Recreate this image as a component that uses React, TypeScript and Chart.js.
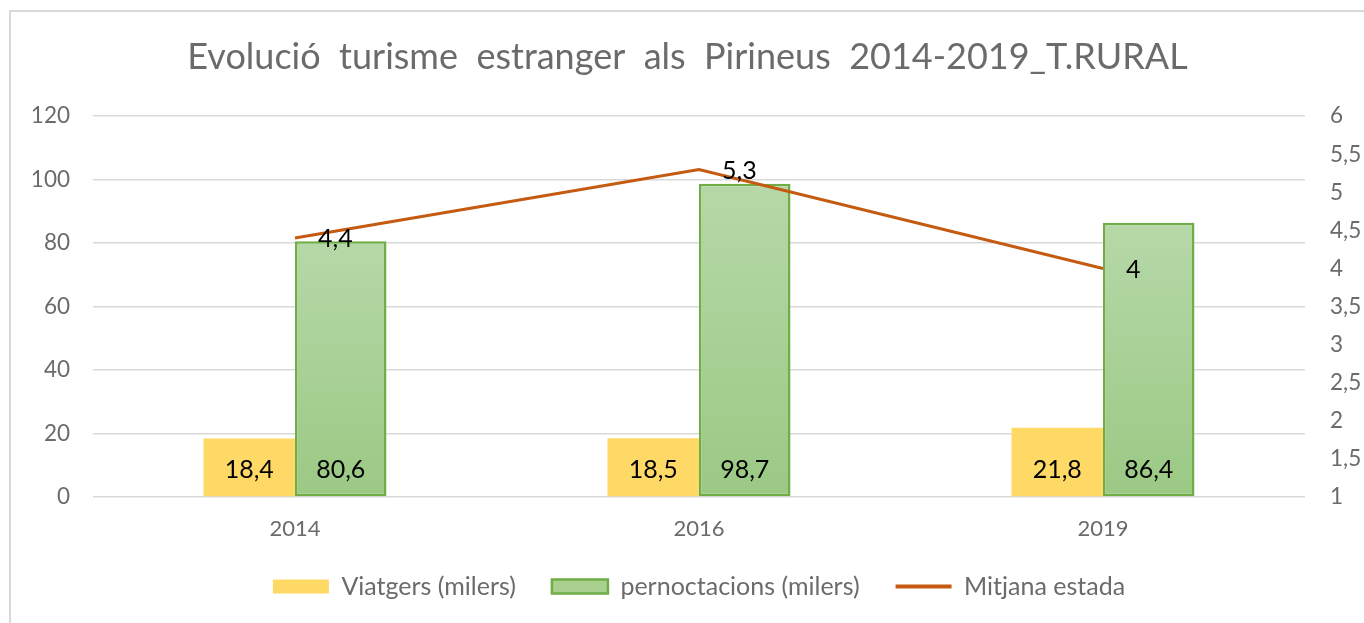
import React, { useEffect, useRef } from "react";
import { Chart, registerables } from "chart.js";

Chart.register(...registerables);

const categories = ["2014", "2016", "2019"];
const viatgers = [18.4, 18.5, 21.8];
const pernoctacions = [80.6, 98.7, 86.4];
const mitjanaEstada = [4.4, 5.3, 4];
const seriesNames = ["Viatgers (milers)", "pernoctacions (milers)", "Mitjana estada"];
const titleText = "Evolució  turisme  estranger  als  Pirineus  2014-2019_T.RURAL";

const FONT = "Lato, 'Open Sans', sans-serif";
const YELLOW = "#FFD966";
const GREEN_BORDER = "#70AD47";
const GREEN_TOP = "#B6D8A8";
const GREEN_BOTTOM = "#9BC984";
const ORANGE = "#C55A11";
const GRID = "#D9D9D9";
const TEXT = "#6b6b6b";

const fmt = (v: number) => String(v).replace(".", ",");

const valueLabels = {
  id: "valueLabels",
  afterDatasetsDraw(chart: any) {
    const ctx = chart.ctx;
    ctx.save();
    ctx.font = `25px ${FONT}`;
    ctx.fillStyle = "#000";
    chart.data.datasets.forEach((ds: any, i: number) => {
      const meta = chart.getDatasetMeta(i);
      meta.data.forEach((el: any, j: number) => {
        const v = ds.data[j];
        if (meta.type === "bar") {
          ctx.textAlign = "center";
          ctx.textBaseline = "middle";
          ctx.fillText(fmt(v), el.x, el.base - 26);
        } else {
          ctx.textAlign = "left";
          ctx.textBaseline = "middle";
          ctx.fillText(fmt(v), el.x + 23, el.y + 1);
        }
      });
    });
    ctx.restore();
  },
};

export default function App() {
  const ref = useRef<HTMLCanvasElement | null>(null);

  useEffect(() => {
    const canvas = ref.current;
    if (!canvas) return;
    const chart = new Chart(canvas, {
      type: "bar",
      data: {
        labels: categories,
        datasets: [
          {
            type: "bar",
            label: seriesNames[0],
            data: viatgers,
            backgroundColor: YELLOW,
            borderWidth: 0,
            categoryPercentage: 0.453,
            barPercentage: 1,
            yAxisID: "y",
            order: 1,
          },
          {
            type: "bar",
            label: seriesNames[1],
            data: pernoctacions,
            backgroundColor: (c: any) => {
              const ch = c.chart;
              if (!ch.chartArea || !ch.scales.y || c.raw == null) return GREEN_TOP;
              const top = ch.scales.y.getPixelForValue(c.raw);
              const bottom = ch.scales.y.getPixelForValue(0);
              const g = ch.ctx.createLinearGradient(0, top, 0, bottom);
              g.addColorStop(0, GREEN_TOP);
              g.addColorStop(1, GREEN_BOTTOM);
              return g;
            },
            borderColor: GREEN_BORDER,
            borderWidth: 2.5,
            borderSkipped: false,
            categoryPercentage: 0.453,
            barPercentage: 1,
            yAxisID: "y",
            order: 1,
          },
          {
            type: "line",
            label: seriesNames[2],
            data: mitjanaEstada,
            borderColor: ORANGE,
            backgroundColor: ORANGE,
            borderWidth: 3,
            pointRadius: 0,
            tension: 0,
            yAxisID: "y1",
            order: 0,
          },
        ],
      } as any,
      options: {
        animation: false,
        responsive: false,
        layout: { padding: { left: 0, right: 0, top: 0, bottom: 14 } },
        plugins: {
          tooltip: { enabled: false },
          title: {
            display: true,
            text: titleText,
            color: TEXT,
            font: { family: FONT, size: 36, weight: "normal" },
            padding: { top: 24, bottom: 37 },
          },
          legend: {
            position: "bottom",
            fullSize: false,
            labels: {
              color: TEXT,
              font: { family: FONT, size: 25 },
              usePointStyle: true,
              pointStyleWidth: 56,
              boxHeight: 14,
              padding: 36,
              sort: (a: any, b: any) => a.datasetIndex - b.datasetIndex,
              generateLabels: (chart: any) =>
                chart.data.datasets.map((ds: any, i: number) => ({
                  text: ds.label,
                  datasetIndex: i,
                  fontColor: TEXT,
                  fillStyle: i === 0 ? YELLOW : i === 1 ? "#A9D08E" : ORANGE,
                  strokeStyle: i === 0 ? YELLOW : i === 1 ? GREEN_BORDER : ORANGE,
                  lineWidth: i === 0 ? 0 : i === 1 ? 2.5 : 4,
                  pointStyle: i === 2 ? "line" : "rect",
                  hidden: false,
                })),
            },
          },
        },
        scales: {
          x: {
            grid: { display: false, drawTicks: false },
            border: { display: false },
            ticks: { color: TEXT, font: { family: FONT, size: 22 }, padding: 19 },
            afterFit: (s: any) => {
              s.height = 41;
            },
          },
          y: {
            position: "left",
            min: 0,
            max: 120,
            ticks: { stepSize: 20, color: TEXT, font: { family: FONT, size: 22.5 }, padding: 23 },
            grid: { color: GRID, lineWidth: 1.5, drawTicks: false },
            border: { display: false },
            afterFit: (s: any) => {
              s.width = 82;
            },
          },
          y1: {
            position: "right",
            min: 1,
            max: 6,
            ticks: {
              stepSize: 0.5,
              color: TEXT,
              font: { family: FONT, size: 22.5 },
              padding: 25,
              callback: (v: any) => fmt(Number(v)),
            },
            grid: { drawOnChartArea: false, drawTicks: false },
            border: { display: false },
            afterFit: (s: any) => {
              s.width = 59;
            },
          },
        },
      } as any,
      plugins: [valueLabels],
    });
    return () => chart.destroy();
  }, []);

  return (
    <div
      style={{
        position: "fixed",
        left: 9,
        top: 10,
        width: 1355,
        height: 613,
        boxSizing: "border-box",
        borderLeft: "2px solid #D9D9D9",
        borderTop: "2px solid #D9D9D9",
        background: "#fff",
      }}
    >
      <canvas ref={ref} width={1353} height={611} style={{ display: "block", width: 1353, height: 611 }} />
    </div>
  );
}
